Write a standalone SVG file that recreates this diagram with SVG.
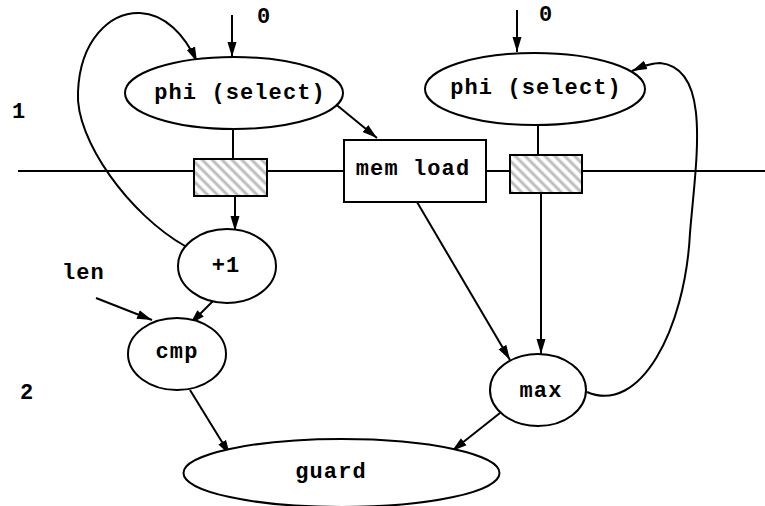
<svg xmlns="http://www.w3.org/2000/svg" width="765" height="506" viewBox="0 0 765 506">
<style>
.n{fill:#fff;stroke:#000;stroke-width:2}
.t{font-family:"Liberation Mono","Courier New",monospace;font-weight:bold;font-size:22px;letter-spacing:1.1px;fill:#000}
.c{fill:none;stroke:#000;stroke-width:2}
.hb{fill:url(#hatch);stroke:#000;stroke-width:2}
</style>
<defs>
<pattern id="hatch" patternUnits="userSpaceOnUse" width="7" height="7" patternTransform="rotate(-45)">
<rect width="7" height="7" fill="#fff"/>
<line x1="2" y1="0" x2="2" y2="7" stroke="#bdbdbd" stroke-width="3"/>
</pattern>
<marker id="ah" markerUnits="userSpaceOnUse" markerWidth="16" markerHeight="12" refX="15" refY="5" orient="auto">
<path d="M0,0.5 L15,5 L0,9.5 Z" fill="#000"/>
</marker>
</defs>
<g id="pipeline-line">
<line class="c" x1="18" y1="171" x2="765" y2="171"/>
</g>
<g id="connectors">
<line class="c" x1="232" y1="15" x2="232" y2="57" marker-end="url(#ah)"/>
<line class="c" x1="517" y1="10" x2="517" y2="52" marker-end="url(#ah)"/>
<line class="c" x1="233" y1="129" x2="233" y2="159"/>
<line class="c" x1="235" y1="197" x2="235" y2="231" marker-end="url(#ah)"/>
<line class="c" x1="333" y1="102" x2="377" y2="138" marker-end="url(#ah)"/>
<line class="c" x1="538" y1="126" x2="538" y2="155"/>
<line class="c" x1="541" y1="193" x2="541" y2="354" marker-end="url(#ah)"/>
<line class="c" x1="417" y1="202" x2="510" y2="360" marker-end="url(#ah)"/>
<line class="c" x1="500" y1="413" x2="452" y2="451" marker-end="url(#ah)"/>
<line class="c" x1="215" y1="299" x2="190" y2="324" marker-end="url(#ah)"/>
<line class="c" x1="96" y1="298" x2="152" y2="320" marker-end="url(#ah)"/>
<line class="c" x1="190" y1="390" x2="230" y2="455" marker-end="url(#ah)"/>
<path class="c" d="M185,246 C130,215 75,140 78,92 C80,40 110,12 140,13 C165,14 185,35 197,62" marker-end="url(#ah)"/>
<path class="c" d="M587,392 C640,415 685,330 690,233 C696,160 712,68 660,63 C650,63 641,67 632,71" marker-end="url(#ah)"/>
</g>
<g id="phi-left">
<ellipse class="n" cx="234" cy="93" rx="109" ry="36"/>
<text class="t" x="240" y="99" text-anchor="middle">phi (select)</text>
</g>
<g id="phi-right">
<ellipse class="n" cx="535" cy="89" rx="110" ry="36"/>
<text class="t" x="536" y="94" text-anchor="middle">phi (select)</text>
</g>
<g id="reg-left">
<rect class="hb" x="194" y="159" width="73" height="37"/>
</g>
<g id="reg-right">
<rect class="hb" x="510" y="155" width="72" height="38"/>
</g>
<g id="mem-load">
<rect class="n" x="344" y="140" width="142" height="62"/>
<text class="t" x="413" y="175" text-anchor="middle">mem load</text>
</g>
<g id="plus1">
<ellipse class="n" cx="227" cy="266" rx="49" ry="37"/>
<text class="t" x="226" y="272" text-anchor="middle">+1</text>
</g>
<g id="cmp">
<ellipse class="n" cx="177" cy="354" rx="49" ry="36"/>
<text class="t" x="177" y="358" text-anchor="middle">cmp</text>
</g>
<g id="max">
<ellipse class="n" cx="538" cy="390" rx="48" ry="36"/>
<text class="t" x="541" y="397" text-anchor="middle">max</text>
</g>
<g id="guard">
<ellipse class="n" cx="341.5" cy="473" rx="158" ry="34"/>
<text class="t" x="331" y="478" text-anchor="middle">guard</text>
</g>
<g id="labels">
<text class="t" x="257" y="23">0</text>
<text class="t" x="539" y="21">0</text>
<text class="t" x="12" y="118">1</text>
<text class="t" x="20" y="399">2</text>
<text class="t" x="62" y="279">len</text>
</g>
</svg>
